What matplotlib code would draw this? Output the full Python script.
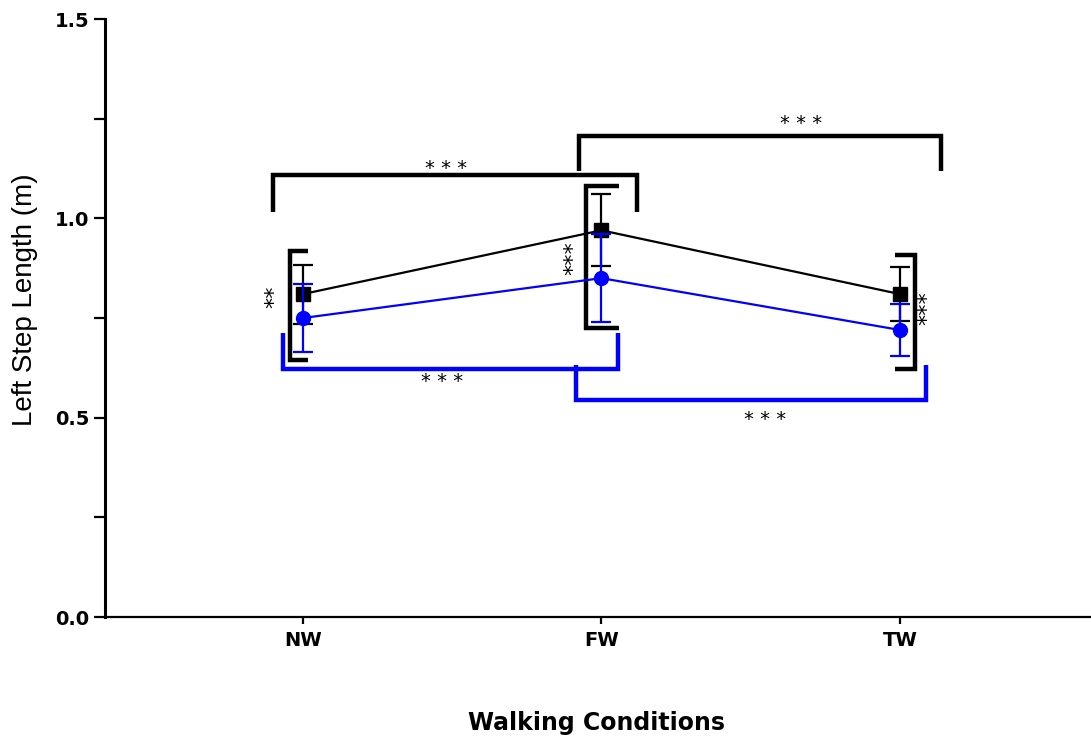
import numpy as np
import matplotlib.pyplot as plt

# Walking conditions and group means / SDs of left step length (m)
conditions = ['NW', 'FW', 'TW']
black_mean = [0.81, 0.97, 0.81]
black_sd = [0.074, 0.09, 0.068]
blue_mean = [0.75, 0.85, 0.72]
blue_sd = [0.085, 0.11, 0.066]

x = np.arange(1, len(conditions) + 1)
blue = '#0000ff'

fig = plt.figure(figsize=(10.91, 7.37), dpi=100)
ax = fig.add_axes([0.0962, 0.1628, 0.9038, 0.8114])

# Group lines with error bars
ax.errorbar(x, black_mean, yerr=black_sd, color='black', marker='s',
            markersize=10, lw=1.6, elinewidth=1.6, capsize=7, capthick=1.6,
            zorder=3)
ax.errorbar(x, blue_mean, yerr=blue_sd, color=blue, marker='o',
            markersize=10, lw=1.6, elinewidth=1.6, capsize=7, capthick=1.6,
            zorder=4)

bw = 3.2
star_kw = dict(fontsize=14, ha='center', va='center', color='black')
vstar_kw = dict(fontsize=16, ha='center', va='center', color='black',
                rotation=90)

def hbracket(x0, x1, y, leg, color):
    # horizontal bracket; leg > 0 means legs hang down, < 0 legs go up
    ax.plot([x0, x0, x1, x1], [y - leg, y, y, y - leg], color=color, lw=bw,
            solid_joinstyle='miter', solid_capstyle='butt', zorder=2)

def vbracket(xs, xa, y0, y1, color='black'):
    ax.plot([xa, xs, xs, xa], [y0, y0, y1, y1], color=color, lw=bw,
            solid_joinstyle='miter', solid_capstyle='butt', zorder=2)

# Between-condition comparisons, black group (top)
hbracket(x[0] - 0.10, x[1] + 0.118, 1.108, 0.092, 'black')
ax.text(1.48, 1.125, '* * *', **star_kw)
hbracket(x[1] - 0.075, x[2] + 0.139, 1.206, 0.088, 'black')
ax.text(2.67, 1.238, '* * *', **star_kw)

# Between-condition comparisons, blue group (bottom)
hbracket(x[0] - 0.068, x[1] + 0.056, 0.623, -0.09, blue)
ax.text(1.465, 0.592, '* * *', **star_kw)
hbracket(x[1] - 0.085, x[2] + 0.086, 0.544, -0.088, blue)
ax.text(2.548, 0.496, '* * *', **star_kw)

# Between-group comparisons at each condition
vbracket(x[0] - 0.044, x[0] + 0.018, 0.918, 0.644)
ax.text(0.905, 0.803, '**', **vstar_kw)
vbracket(x[1] - 0.053, x[1] + 0.058, 1.080, 0.724)
ax.text(1.905, 0.90, '***', **vstar_kw)
vbracket(x[2] + 0.050, x[2] - 0.017, 0.907, 0.623)
ax.text(3.092, 0.774, '***', **vstar_kw)

# Axes styling
ax.set_xlim(0.337, 3.64)
ax.set_ylim(0, 1.5)
ax.set_xticks(x)
ax.set_xticklabels(conditions, fontsize=14, fontweight='bold')
ax.set_yticks([0, 0.5, 1.0, 1.5])
ax.set_yticklabels(['0.0', '0.5', '1.0', '1.5'], fontsize=14,
                   fontweight='bold')
ax.set_yticks(np.arange(0.25, 1.5, 0.5), minor=True)
ax.tick_params(axis='y', which='both', length=8, width=1.6, pad=3)
ax.tick_params(axis='x', length=5, width=1.6, pad=5)

for side in ['top', 'right']:
    ax.spines[side].set_visible(False)
ax.spines['left'].set_linewidth(2.2)
ax.spines['bottom'].set_linewidth(1.6)

ax.set_ylabel('Left Step Length (m)', fontsize=20, family='Liberation Sans')
ax.yaxis.set_label_coords(-0.068, 0.53)
ax.set_xlabel('Walking Conditions', fontsize=17, fontweight='bold')
ax.xaxis.set_label_coords(0.499, -0.157)

fig.savefig('out.png', dpi=100)
